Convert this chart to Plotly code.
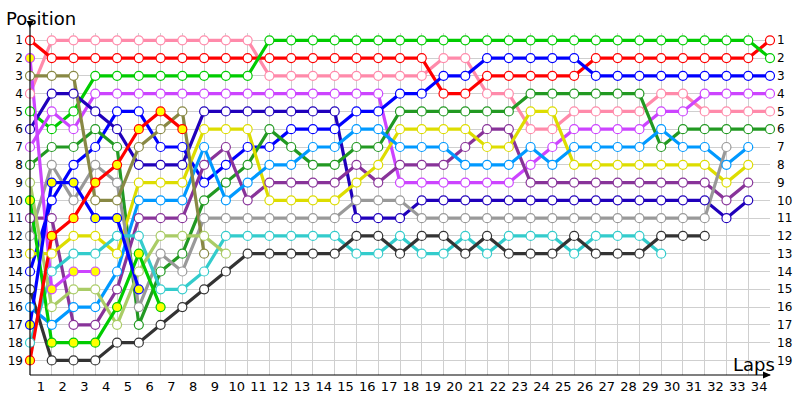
import plotly.graph_objects as go

# ---- data: race position after each lap (index 0 = grid) ----
lap_labels = [str(n) for n in range(1, 35)]
position_ticks = [1, 2, 3, 4, 5, 6, 7, 8, 9, 10, 11, 12, 13, 14, 15, 16, 17, 18, 19]

red_a = [1, 2, 2, 2, 2, 2, 2, 2, 2, 2, 2, 2, 2, 2, 2, 2, 2, 2, 2, 4, 4, 3, 3, 3, 3, 3, 2, 2, 2, 2, 2, 2, 2, 2, 1]
red_b = [19, 12, 11, 9, 8, 6, 5, 6]
pink = [4, 1, 1, 1, 1, 1, 1, 1, 1, 1, 1, 3, 3, 3, 3, 3, 3, 3, 3, 2, 2, 4, 4, 6, 6, 5, 5, 5, 5, 4, 4, 5, 5, 5, 5]
green_a = [5, 6, 5, 3, 3, 3, 3, 3, 3, 3, 3, 1, 1, 1, 1, 1, 1, 1, 1, 1, 1, 1, 1, 1, 1, 1, 1, 1, 1, 1, 1, 1, 1, 1, 2]
green_b = [10, 18, 18, 18, 16, 13, 16]
magenta_a = [7, 5, 6, 4, 4, 4, 4, 4, 4, 4, 4, 4, 4, 4, 4, 4, 4, 9, 9, 9, 9, 9, 9, 8, 7, 6, 6, 6, 6, 5, 5, 4, 4, 4, 4]
magenta_b = [2, 15, 14, 14]
olive = [3, 3, 3, 10, 10, 7, 6, 5, 13]
navy = [6, 4, 4, 5, 6, 8, 8, 8, 5, 5, 5, 5, 5, 5, 5, 11, 11, 11, 10, 10, 10, 10, 10, 10, 10, 10, 10, 10, 10, 10, 10, 10, 11, 10]
dark_green = [8, 7, 7, 6, 7, 17, 14, 13, 10, 9, 8, 6, 7, 8, 8, 7, 7, 5, 5, 5, 5, 5, 5, 4, 4, 4, 4, 4, 4, 7, 6, 6, 6, 6, 6]
yellow_green = [9, 16, 15, 15, 17, 14, 12, 12, 12, 13]
purple = [11, 11, 17, 17, 15, 11, 11, 11, 8, 7, 10, 9, 9, 9, 9, 8, 9, 8, 8, 8, 7, 6, 6, 9, 9, 9, 9, 9, 9, 9, 9, 9, 10, 9]
gray = [12, 8, 10, 8, 9, 16, 13, 14, 11, 11, 11, 11, 11, 11, 11, 10, 10, 10, 11, 11, 11, 11, 11, 11, 11, 11, 11, 11, 11, 11, 11, 11, 7]
yellow = [13, 13, 12, 12, 13, 9, 9, 9, 6, 6, 6, 10, 10, 10, 10, 9, 8, 6, 6, 6, 6, 7, 7, 5, 5, 8, 8, 8, 8, 8, 8, 8, 9, 8]
blue_a = [14, 10, 8, 7, 5, 5, 7, 7, 9, 8, 7, 7, 6, 6, 6, 5, 5, 4, 4, 3, 3, 2, 2, 2, 2, 2, 3, 3, 3, 3, 3, 3, 3, 3, 3]
blue_b = [17, 9, 9, 11, 11, 15]
black = [15, 19, 19, 19, 18, 18, 17, 16, 15, 14, 13, 13, 13, 13, 13, 12, 12, 13, 12, 12, 13, 12, 13, 13, 13, 12, 13, 13, 13, 12, 12, 12]
light_blue = [16, 17, 16, 16, 14, 10, 10, 10, 7, 10, 9, 8, 8, 7, 7, 6, 6, 7, 7, 7, 8, 8, 8, 7, 8, 7, 7, 7, 7, 6, 7, 7, 8, 7]
cyan = [18, 14, 13, 13, 12, 12, 15, 15, 14, 12, 12, 12, 12, 12, 12, 13, 13, 12, 13, 13, 12, 13, 12, 12, 12, 13, 12, 12, 12, 13]

# (values, line colour, retired-early flag -> yellow markers)
series = [
    (pink, "#FF8AAA", False),
    (red_a, "#FF0000", False),
    (green_a, "#00CC00", False),
    (magenta_a, "#CC44FF", False),
    (blue_a, "#0000FF", False),
    (navy, "#2000BB", False),
    (dark_green, "#229922", False),
    (purple, "#883399", False),
    (yellow, "#DDDD00", False),
    (light_blue, "#0099FF", False),
    (gray, "#999999", False),
    (cyan, "#33CCCC", False),
    (black, "#333333", False),
    (olive, "#888844", False),
    (yellow_green, "#AACC66", False),
    (magenta_b, "#CC44FF", True),
    (green_b, "#00CC00", True),
    (blue_b, "#0000FF", True),
    (red_b, "#FF0000", True),
]

fig = go.Figure()
for vals, col, _ in series:
    fig.add_trace(go.Scatter(x=list(range(len(vals))), y=vals, mode="lines",
                             line=dict(color=col, width=3.2), hoverinfo="skip",
                             showlegend=False, cliponaxis=False))
for vals, col, retired in series:
    fig.add_trace(go.Scatter(x=list(range(len(vals))), y=vals, mode="markers",
                             marker=dict(symbol="circle", size=9,
                                         color="#FFFF00" if retired else "#FFFFFF",
                                         line=dict(color=col, width=1.2)),
                             showlegend=False, cliponaxis=False))
# invisible trace for the right axis
fig.add_trace(go.Scatter(x=[0], y=[1], yaxis="y2", mode="markers",
                         marker=dict(opacity=0), showlegend=False, hoverinfo="skip"))

L, R, T, B = 30, 30, 33, 25
W, H = 800, 400
pw, ph = W - L - R, H - T - B


def px(x):
    return (x - L) / pw


def py(y):
    return (H - B - y) / ph


font = "DejaVu Sans"
ymin, ymax = 0.59, 19.82
fig.update_layout(
    width=W, height=H,
    margin=dict(l=L, r=R, t=T, b=B, autoexpand=False),
    paper_bgcolor="white", plot_bgcolor="white",
    font=dict(family=font, color="#000000", size=12),
    xaxis=dict(range=[0, 34], tickvals=[i + 0.5 for i in range(34)], ticktext=lap_labels,
               showgrid=False, zeroline=False, showline=False, ticks="", automargin=False,
               tickfont=dict(size=13), ticklabelstandoff=2,
               minor=dict(tickmode="linear", tick0=0, dtick=1, showgrid=True,
                          gridcolor="#CFCFCF", gridwidth=1, ticks="")),
    yaxis=dict(range=[ymax, ymin], tickvals=position_ticks, showgrid=True, automargin=False,
               gridcolor="#CFCFCF", gridwidth=1, zeroline=False, showline=False,
               ticks="", tickfont=dict(size=12), ticklabelstandoff=6),
    yaxis2=dict(range=[ymax, ymin], tickvals=position_ticks, overlaying="y", side="right",
                anchor="x", showgrid=False, zeroline=False, showline=False, ticks="",
                automargin=False, tickfont=dict(size=12), ticklabelstandoff=6),
    shapes=[
        dict(type="line", xref="paper", yref="paper", x0=px(30), x1=px(30), y0=py(375), y1=py(25),
             line=dict(color="black", width=1.2)),
        dict(type="line", xref="paper", yref="paper", x0=px(30), x1=px(770), y0=py(375), y1=py(375),
             line=dict(color="black", width=1.2)),
        dict(type="path", xref="paper", yref="paper",
             path=f"M {px(26.5)},{py(21)} L {px(33.5)},{py(21)} L {px(30)},{py(28)} Z",
             fillcolor="black", line=dict(color="black", width=0)),
        dict(type="path", xref="paper", yref="paper",
             path=f"M {px(763)},{py(371.5)} L {px(763)},{py(378.5)} L {px(771)},{py(375)} Z",
             fillcolor="black", line=dict(color="black", width=0)),
    ],
    annotations=[
        dict(text="Position", xref="paper", yref="paper", x=px(4), y=py(18), xanchor="left",
             yanchor="middle", showarrow=False, font=dict(size=18, family=font, color="black")),
        dict(text="Laps", xref="paper", yref="paper", x=px(777), y=py(364), xanchor="right",
             yanchor="middle", showarrow=False, font=dict(size=18, family=font, color="black")),
    ],
)

fig.write_html("out.html", config={"displayModeBar": False},
               post_script="document.body.style.margin='0';document.body.style.padding='0';")
